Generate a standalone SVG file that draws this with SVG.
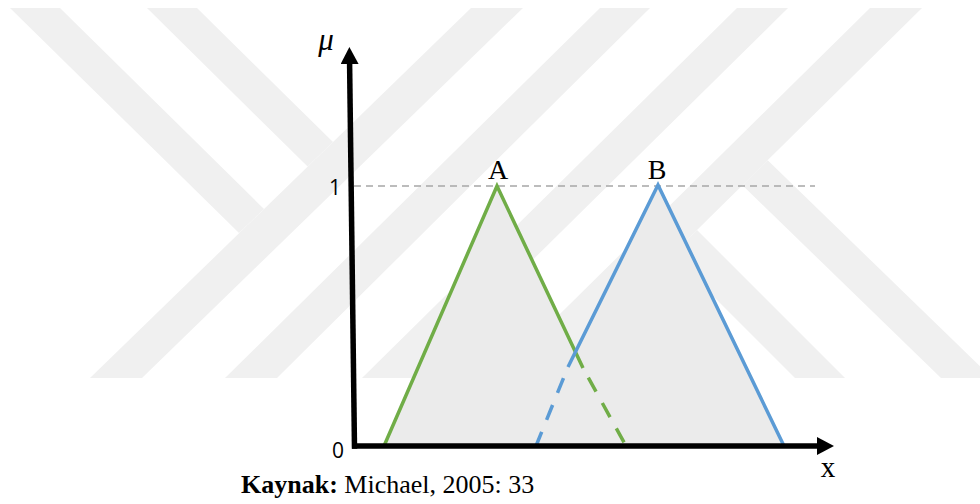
<svg xmlns="http://www.w3.org/2000/svg" width="980" height="504" viewBox="0 0 980 504">
  <defs>
    <marker id="arrow" viewBox="0 0 17 18" refX="0" refY="9" markerWidth="17" markerHeight="18" markerUnits="userSpaceOnUse" orient="auto">
      <path d="M0,0 L17,9 L0,18 Z" fill="#000"/>
    </marker>
  </defs>
  <style>
    .wm { fill: #f0f0f0; }
    .area { fill: #ebebeb; }
    .axis { stroke: #000; stroke-width: 5.5; fill: none; }
    .guide { stroke: #a6a6a6; stroke-width: 1.6; stroke-dasharray: 7 5; fill: none; }
    .green { stroke: #70ad47; stroke-width: 3.5; fill: none; }
    .blue { stroke: #5b9bd5; stroke-width: 3.5; fill: none; }
    .serif { font-family: "Liberation Serif", "Times New Roman", serif; fill: #000; }
    .sans { font-family: "Open Sans", "Liberation Sans", Arial, sans-serif; fill: #000; }
  </style>
  <rect width="980" height="504" fill="#fff"/>

  <g id="watermark">
    <polygon class="wm" points="90,378 142,378 523,8 471,8"/>
    <polygon class="wm" points="225,378 277,378 650,8 600,8"/>
    <polygon class="wm" points="362,378 413,378 788,8 737,8"/>
    <polygon class="wm" points="495,378 547,378 922,8 870,8"/>
    <polygon class="wm" points="10,8 60,8 264,209 239,233"/>
    <polygon class="wm" points="147,8 197,8 333,142 307.6,166.6"/>
    <polygon class="wm" points="795,378 845,378 697,230 671.8,254.8"/>
    <polygon class="wm" points="941,378 992,378 767.7,160.2 742.4,185.2"/>
  </g>

  <g id="fill-area">
    <polygon class="area" points="384,446 497,186 575,352 658,185 784,446"/>
  </g>

  <g id="guide-line">
    <line class="guide" x1="354" y1="186" x2="815" y2="186"/>
  </g>

  <g id="set-A">
    <polyline class="green" points="384,446 497,186 583,368"/>
    <line class="green" x1="583" y1="368" x2="626" y2="446" stroke-dasharray="0 11 16 13 16 13 16 20"/>
    <text class="serif" x="498" y="179" font-size="28" text-anchor="middle">A</text>
  </g>

  <g id="set-B">
    <polyline class="blue" points="568,367 658,185 784,446"/>
    <line class="blue" x1="568" y1="367" x2="536" y2="446" stroke-dasharray="0 12 16 13 16 13 16 20"/>
    <text class="serif" x="657" y="179" font-size="28" text-anchor="middle">B</text>
  </g>

  <g id="axes">
    <line class="axis" x1="354.5" y1="448.8" x2="349.6" y2="64" marker-end="url(#arrow)"/>
    <line class="axis" x1="352" y1="446" x2="817" y2="446" marker-end="url(#arrow)"/>
  </g>

  <g id="axis-labels">
    <text class="serif" x="326" y="50" font-size="31" font-style="italic" text-anchor="middle">μ</text>
    <text class="sans" x="341" y="195" font-size="21" text-anchor="end">1</text>
    <text class="sans" x="344" y="458" font-size="21" text-anchor="end">0</text>
    <text class="serif" x="828" y="477" font-size="29" text-anchor="middle">x</text>
  </g>

  <g id="caption">
    <text class="serif" x="241" y="493" font-size="26"><tspan font-weight="bold">Kaynak:</tspan> Michael, 2005: 33</text>
  </g>
</svg>
